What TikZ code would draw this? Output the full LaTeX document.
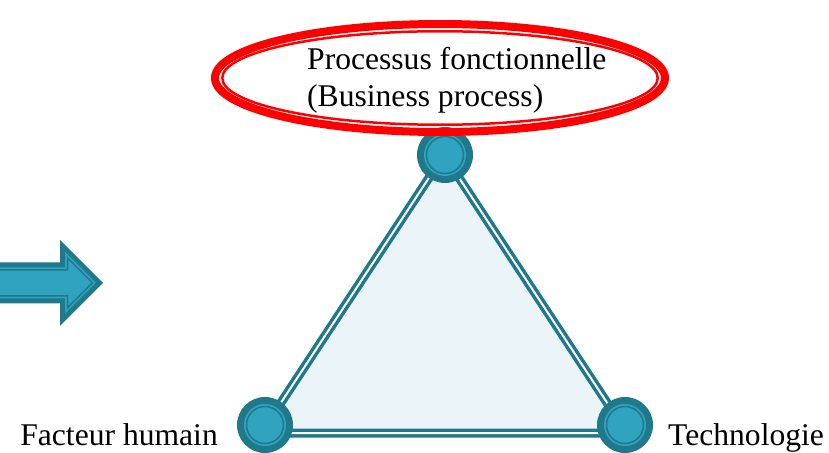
\documentclass[tikz,border=0pt]{standalone}
\usepackage{fontspec}
\setmainfont{Liberation Serif}
\definecolor{tealdark}{RGB}{31,121,139}
\definecolor{teallight}{RGB}{47,163,192}
\definecolor{trifill}{RGB}{235,244,248}
\definecolor{ellred}{RGB}{255,0,0}
\begin{document}
\begin{tikzpicture}[x=1pt,y=-1pt,
  lbl/.style={inner sep=0pt, font=\fontsize{31.6}{37}\selectfont},
  vertex/.style={circle, fill=tealdark, minimum size=56pt, inner sep=0pt},
  edge/.style={draw=tealdark, line width=3.5pt, double=white, double distance=2pt},
  ring/.style={draw=tealdark, line width=1.5pt},
  ellstroke/.style={draw=ellred}
]
\useasboundingbox (0,0) rectangle (829,452);
\clip (0,0) rectangle (829,452);
% arrow
\fill[tealdark] (-5,262.3) -- (60,262.3) -- (60,239.8) -- (103,282.8) -- (60,325.8) -- (60,303.3) -- (-5,303.3) -- cycle;
\fill[teallight] (-5,267.3) -- (65,267.3) -- (65,251.9) -- (95.9,282.8) -- (65,313.7) -- (65,298.3) -- (-5,298.3) -- cycle;
\draw[ring] (-5,269.8) -- (67.5,269.8) -- (67.5,257.9) -- (92.4,282.8) -- (67.5,307.7) -- (67.5,295.8) -- (-5,295.8);
% triangle
\coordinate (tA) at (444,155);
\coordinate (tB) at (261,433);
\coordinate (tC) at (627,433);
\fill[trifill] (tA) -- (tB) -- (tC) -- cycle;
\draw[edge] (tA) -- (tB) -- (tC) -- cycle;
% vertices
\node[vertex] (vtop) at (445,155) {};
\node[vertex] (vleft) at (265,425) {};
\node[vertex] (vright) at (625,425) {};
\foreach \v in {vtop,vleft,vright}{
  \fill[teallight] (\v) circle (21pt);
  \draw[ring] (\v) circle (18.5pt);
}
% ellipse
\coordinate (ec) at (440,78);
\draw[ellstroke, line width=8pt] (ec) ellipse [x radius=225pt, y radius=54pt];
\draw[ellstroke, line width=2.5pt] (ec) ellipse [x radius=217.75pt, y radius=46.75pt];
% labels
\node[lbl, anchor=base west] (p1) at (307,69) {Processus fonctionnelle};
\node[lbl, anchor=base west] (p2) at (307,106) {(Business process)};
\node[lbl, anchor=base east] (fh) at (218,445) {Facteur humain};
\node[lbl, anchor=base west] (tech) at (668,445) {Technologie};
\end{tikzpicture}
\end{document}
